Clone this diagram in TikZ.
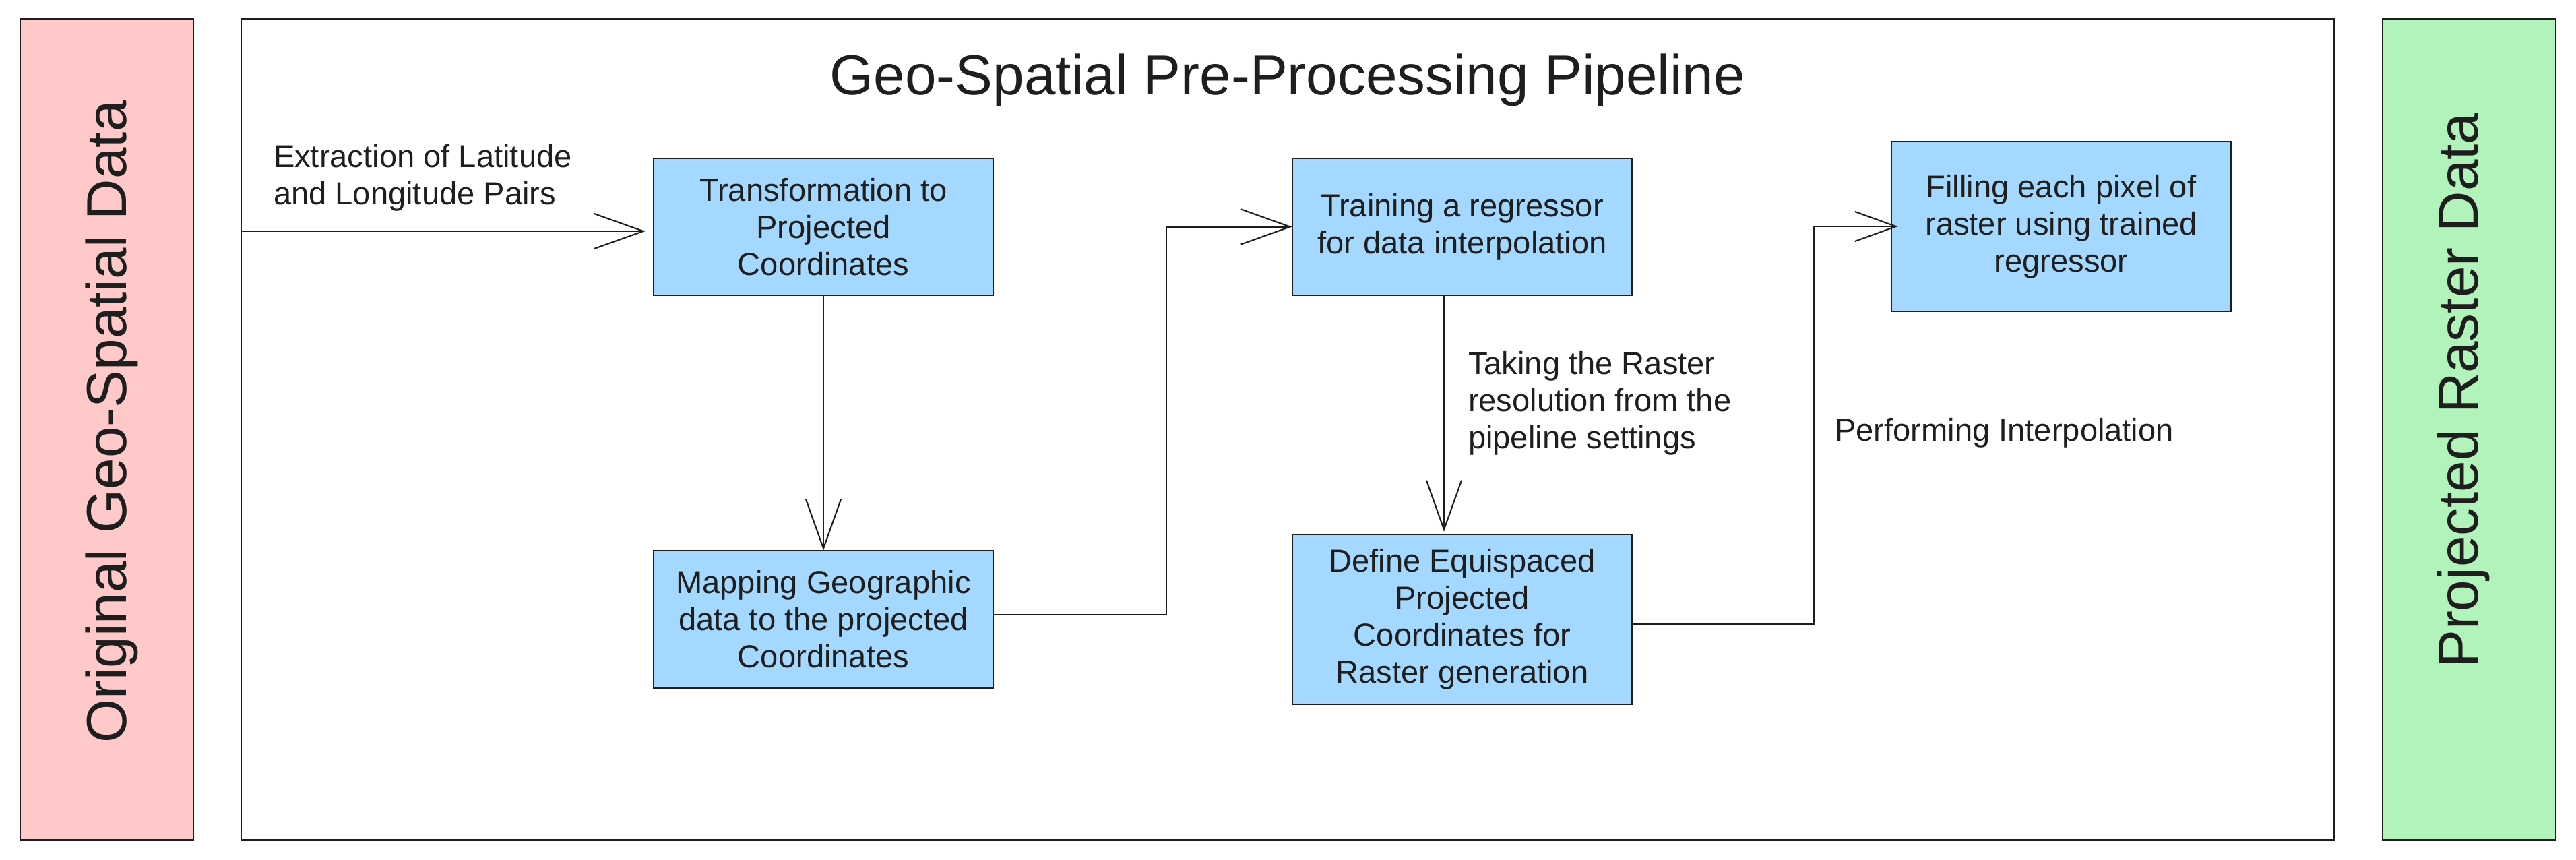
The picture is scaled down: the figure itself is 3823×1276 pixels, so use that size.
\documentclass[tikz,border=0pt]{standalone}
\usepackage{fontspec}
\setmainfont{Liberation Sans}
\usetikzlibrary{arrows.meta}
\definecolor{ink}{HTML}{1E1E1E}
\definecolor{boxblue}{HTML}{A5D8FF}
\definecolor{boxgreen}{HTML}{B2F2BB}
\definecolor{boxpink}{HTML}{FFC9C9}
\begin{document}
\begin{tikzpicture}[x=0.01cm,y=-0.01cm,
  panel/.style={draw=ink,line width=0.78pt,inner sep=0,outer sep=0,minimum width=2.57cm,minimum height=12.17cm},
  stepbox/.style={draw=ink,fill=boxblue,line width=0.7pt,inner sep=0,outer sep=0,minimum width=5.04cm,align=center,font=\fontsize{13.4pt}{15.65pt}\selectfont,text=ink},
  conn/.style={draw=ink,line width=0.6pt,-{Straight Barb[length=7.3mm,width=5.2mm]}},
  connsmall/.style={draw=ink,line width=0.6pt,-{Straight Barb[length=6.1mm,width=4.4mm]}},
  lbl/.style={inner sep=0,outer sep=0,align=left,font=\fontsize{13.4pt}{15.65pt}\selectfont,text=ink},
  big/.style={inner sep=0,outer sep=0,font=\fontsize{23.8pt}{28pt}\selectfont,text=ink}]
\useasboundingbox (0,0) rectangle (3823,1276);
% panels
\node[panel,fill=boxpink] (src) at (158.5,637.5) {};
\node[panel,minimum width=31.04cm] (main) at (1911,637.5) {};
\node[panel,fill=boxgreen] (dst) at (3664.5,637.5) {};
\node[big,rotate=90,anchor=base] (srct) at (187,626) {Original Geo-Spatial Data};
\node[big,rotate=90,anchor=base] (dstt) at (3677,579) {Projected Raster Data};
\node[big,anchor=base] (title) at (1911,141) {Geo-Spatial Pre-Processing Pipeline};
% steps
\node[stepbox,minimum height=2.03cm] (A) at (1222,336.5) {Transformation to\\Projected\\Coordinates};
\node[stepbox,minimum height=2.04cm] (B) at (1222,919) {Mapping Geographic\\data to the projected\\Coordinates};
\node[stepbox,minimum height=2.03cm] (C) at (2170,336.5) {Training a regressor\\for data interpolation};
\node[stepbox,minimum height=2.52cm] (D) at (2170,919) {Define Equispaced\\Projected\\Coordinates for\\Raster generation};
\node[stepbox,minimum height=2.52cm] (E) at (3059,336) {Filling each pixel of\\raster using trained\\regressor};
% connectors
\coordinate (in) at (359,343);
\draw[conn,shorten >=0.12cm] (in) -- (in -| A.west);
\node[lbl,anchor=north west] (l1) at (406,214) {Extraction of Latitude\\and Longitude Pairs};
\draw[conn] (A.south) -- (B.north);
\draw[conn] ([yshift=0.07cm]B.east) -- ++(257,0) |- (C.west);
\draw[conn,shorten >=0.04cm] ([xshift=-0.27cm]C.south) -- ([xshift=-0.27cm]D.north);
\node[lbl,anchor=north west] (l2) at (2179,521) {Taking the Raster\\resolution from the\\pipeline settings};
\draw[connsmall,shorten >=-0.1cm] ([yshift=-0.07cm]D.east) -- ++(270,0) |- (E.west);
\node[lbl,anchor=base west] (l3) at (2723,654) {Performing Interpolation};
\end{tikzpicture}
\end{document}
